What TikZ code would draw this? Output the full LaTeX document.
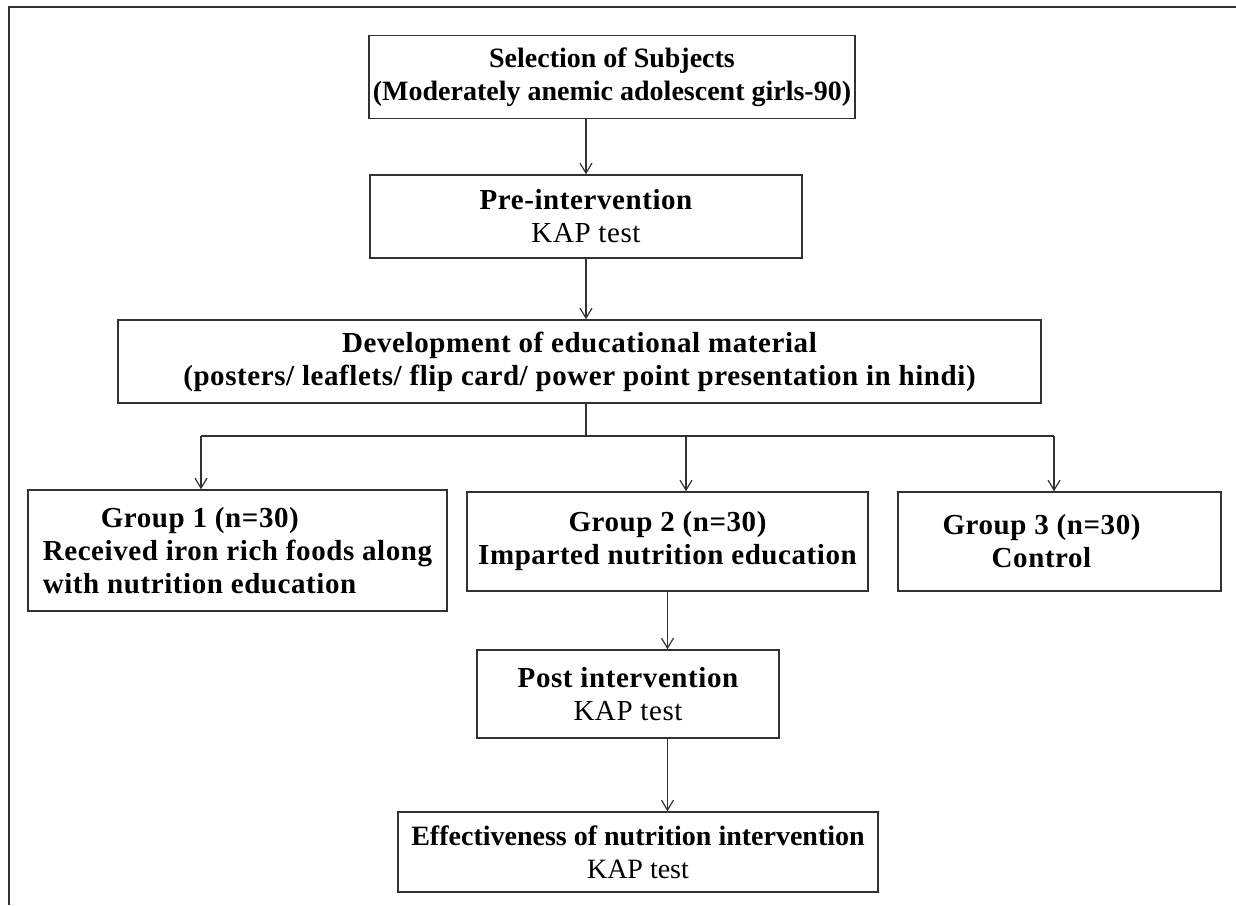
\documentclass[tikz,border=0pt]{standalone}
\usepackage{fontspec}
\setmainfont[LetterSpace=2]{Liberation Serif}
\usetikzlibrary{arrows.meta,calc}
\usepackage{xcolor}
\definecolor{linecol}{RGB}{50,50,50}

\begin{document}
\begin{tikzpicture}[x=1pt,y=-1pt,
  box/.style={draw=linecol,line width=1.4pt,minimum height=83pt,align=center,
    inner xsep=4pt,inner ysep=0pt,font=\fontsize{29}{33}\selectfont\bfseries},
  tight/.style={font=\fontsize{28}{33}\selectfont\addfontfeature{LetterSpace=0}\bfseries},
  flow/.style={draw=linecol,line width=1.2pt,-{Straight Barb[length=10pt,width=12pt]}}]
  \useasboundingbox (0,0) rectangle (1236,905);
  % outer frame (open at right and bottom)
  \draw[linecol,line width=2pt](1236,7)--(9,7)--(9,905);

  \node[box,tight,minimum width=485pt](sel) at (612,77)
    {Selection of Subjects\\(Moderately anemic adolescent girls-90)};
  \node[box,minimum width=432pt](pre) at (586,216.5)
    {Pre-intervention\\\mdseries KAP test};
  \node[box,minimum width=923pt](dev) at (579.5,361.5)
    {Development of educational material\\(posters/ leaflets/ flip card/ power point presentation in hindi)};
  \node[box,minimum width=419pt,minimum height=121pt,align=left](g1) at (237.5,550.5)
    {\hspace*{2em}Group 1 (n=30)\\Received iron rich foods along\\with nutrition education};
  \node[box,minimum width=401pt,minimum height=99pt](g2) at (667.5,541.5)
    {Group 2 (n=30)\\Imparted nutrition education};
  \node[box,minimum width=323pt,minimum height=99pt](g3) at (1059.5,541.5)
    {Group 3 (n=30)\hspace*{36pt}\\Control\hspace*{36pt}};
  \node[box,minimum width=302pt,minimum height=88pt](post) at (628,694)
    {Post intervention\\\mdseries KAP test};
  \node[box,tight,minimum width=480pt,minimum height=80pt](eff) at (638,852)
    {Effectiveness of nutrition intervention\\\mdseries KAP test};

  % branch points
  \coordinate(fork) at (586,436);
  \coordinate(a1) at (201,436);
  \coordinate(a2) at (686,436);
  \coordinate(a3) at (1054,436);

  \draw[flow](sel.south -| pre.north)--(pre.north);
  \draw[flow](pre.south)--(pre.south |- dev.north);
  \draw[linecol,line width=1.2pt](fork |- dev.south)--(fork);
  \draw[linecol,line width=1.2pt](a1)--(a3);
  \foreach \g/\a in {g1/a1,g2/a2,g3/a3}
    \draw[flow](\a)--(\a |- \g.north);
  \draw[flow](g2.south)--(g2.south |- post.north);
  \draw[flow](post.south -| g2.south)--(eff.north -| g2.south);
\end{tikzpicture}
\end{document}
